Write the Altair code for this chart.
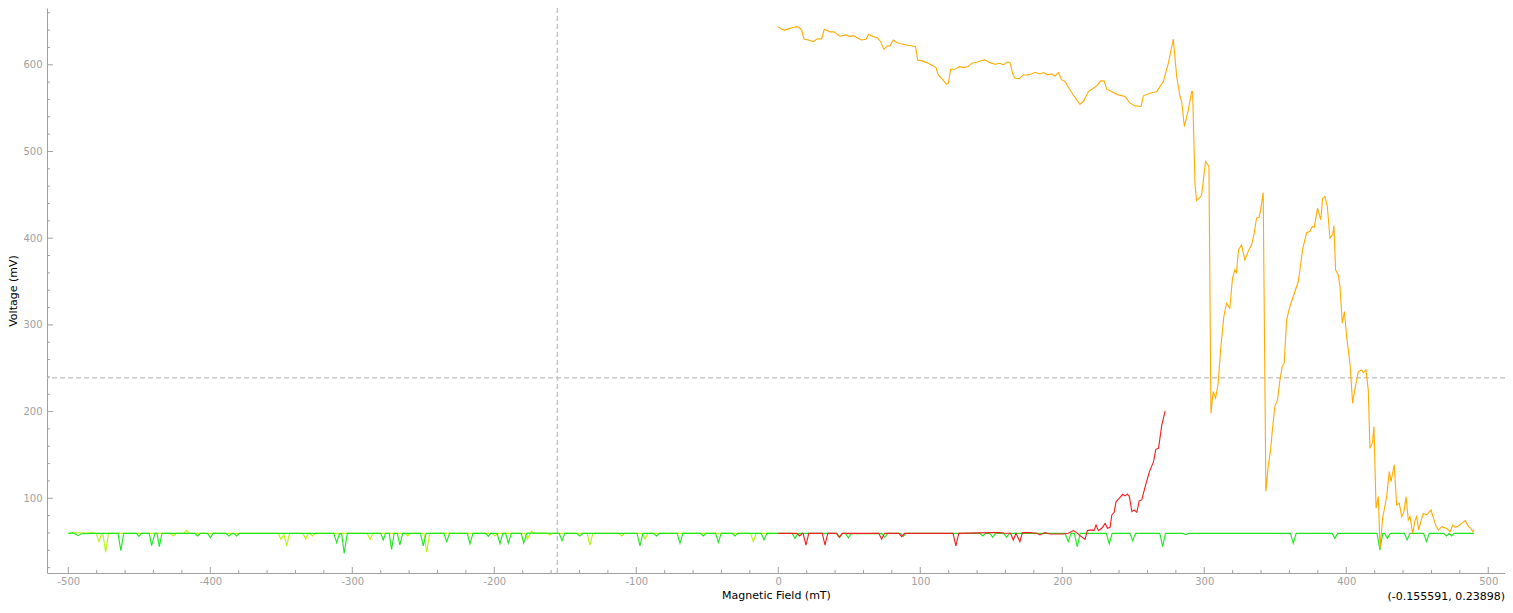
import altair as alt
import pandas as pd

# crosshair position (mT, mV) and its readout
cross_x = -155.591
cross_y = 238.98

# sweep 1: -500 -> 0 (yellow-green)
yellow_x = [-500, -496, -488, -483, -480.4, -478.4, -476.4, -475.7, -473.7, -471.7,
            -428, -426.1, -424, -418.7, -416.7, -414.7, -352.2, -350.2, -348.2, -346.2,
            -344.2, -334.8, -332.8, -330.8, -330, -328.1, -326, -289.5, -287.5, -285.5,
            -263, -261, -259, -249.6, -247.6, -245.6, -201.5, -199.5, -197.5, -178.7,
            -176.7, -173.7, -171.7, -162.8, -160.8, -158.8, -134.6, -132.6, -130.6, -112.3,
            -110.3, -108.3, -95.8, -93.8, -91.8, -19.6, -17.6, -15.6, 0]
yellow_v = [59.5, 60.5, 60, 60.5, 59.5, 50, 59.5, 59.5, 37.7, 59.5,
            59.5, 56.5, 59.5, 59.5, 62.7, 59.5, 59.5, 52.5, 58, 45,
            59.5, 59.5, 53, 59.5, 59.5, 56.5, 59.5, 59.5, 52.5, 59.5,
            59.5, 56.5, 59.5, 59.5, 37.7, 59.5, 59.5, 56.5, 59.5, 59.5,
            53, 61.9, 59.5, 59.5, 57.5, 59.5, 59.5, 46.1, 59.5, 59.5,
            56.5, 59.5, 59.5, 52.7, 59.5, 59.5, 50, 59.5, 59.5]

# sweep 2: -500 -> 490 (green)
green_x = [-500, -497, -494.5, -493, -491, -480, -465, -463, -461, -452,
           -450.3, -448.5, -443, -441.3, -439, -437.5, -435.9, -434, -411, -409,
           -407, -402, -400, -398, -389, -387, -385, -383.5, -381.5, -379.5,
           -313, -311, -309, -307.5, -305.7, -303.5, -280, -278.2, -276.5, -274,
           -272.3, -270.5, -268.3, -266.5, -264.5, -252, -250, -248, -235.5, -233.5,
           -231.5, -219, -217.1, -215, -206, -204.2, -202.5, -198, -196, -194,
           -192, -190.1, -188, -181, -179.3, -177, -154.3, -152.3, -150.3, -142,
           -139.8, -137.5, -99.5, -97.4, -95.3, -88, -85.7, -83.5, -71.2, -69.2,
           -67.2, -55, -52.8, -50.8, -44.2, -42.2, -40.2, -32.5, -30.5, -28.5,
           -12, -10.1, -8, 9.8, 11.8, 13.8, 41.3, 43.3, 45.3, 47.3,
           49.3, 51.3, 73, 75, 77, 86, 88, 90, 142, 144,
           146, 149, 151, 153, 158.8, 160.8, 162.8, 202, 204.2, 206.2,
           208.5, 210.6, 212.6, 231, 233.1, 235.1, 247.6, 249.6, 251.6, 268.7,
           270.7, 272.7, 285, 287, 289, 360.7, 362.7, 364.7, 390, 392,
           394, 421.7, 423.7, 425.7, 427, 429, 431, 440.9, 442.9, 444.9,
           454.5, 456.5, 458.5, 468.6, 470.6, 472.6, 474.1, 476, 490]
green_v = [59.5, 60, 58.5, 56.9, 59, 59.5, 59.5, 39.6, 59.5, 59.5,
           56, 59.5, 59.5, 45.4, 59.5, 59.5, 44.2, 59.5, 59.5, 56.5,
           59.5, 59.5, 54.5, 59.5, 59.5, 56.5, 59, 59.5, 56.5, 59.5,
           59.5, 48.8, 59, 59.5, 36.5, 59.5, 59.5, 51.9, 59.5, 59.5,
           41.1, 59.5, 59.5, 46.1, 59.5, 59.5, 45, 59.5, 59.5, 50,
           59.5, 59.5, 47.3, 59.5, 59.5, 56, 59.5, 59.5, 47.3, 59.5,
           59.5, 48.1, 59.5, 59.5, 48.5, 60, 59.5, 51, 59.5, 59.5,
           56.5, 59.5, 59.5, 45, 59.5, 59.5, 56.5, 59.5, 59.5, 48,
           59.5, 59.5, 56.5, 59.5, 59.5, 49, 59.5, 59.5, 56.5, 59.5,
           59.5, 51.9, 59.5, 59.5, 53.8, 59.5, 59.5, 55, 59.5, 59.5,
           54.5, 59, 59.5, 55, 59.5, 59.5, 56, 59.5, 59.5, 56.5,
           59.5, 59.5, 55, 59.5, 59.5, 55, 59.5, 59.5, 50, 59.5,
           59.5, 44.2, 59.5, 59.5, 47.3, 59.5, 59.5, 51.1, 59.5, 59.5,
           44.2, 59.5, 59.5, 58, 59.5, 59.5, 48, 59.5, 59.5, 53.8,
           59.5, 59.5, 40.4, 59.5, 59.5, 53.8, 59.5, 59.5, 51.9, 59.5,
           59.5, 50, 59.5, 59.5, 56.5, 59.5, 56.5, 59.5, 59.5]

# sweep 3: 0 -> 273 (red)
red_x = [0, 13, 15, 17, 17.5, 19.5, 21.5, 31, 32.9, 34.9,
         41, 43, 45, 70.8, 72.8, 74.8, 84.9, 86.9, 88.9, 123.1,
         125.1, 127.1, 149.1, 156.1, 159.6, 163.6, 165.5, 167.4, 170.2, 171.9,
         177.3, 182, 184.3, 187.8, 191.4, 200.8, 204.3, 207.8, 210.2, 212.5,
         216, 217.7, 220.8, 222.4, 223.8, 225.5, 227.8, 230.2, 231.8, 233.7,
         234.9, 236.5, 237.9, 239.6, 242.6, 244.3, 245.9, 247.3, 249, 250.6,
         252.5, 254.2, 256, 258.4, 261.4, 264.3, 265.9, 267.8, 270.1, 272.5]
red_v = [59.5, 59.5, 56.5, 59.5, 59.5, 46, 59.5, 59.5, 46, 59.5,
         59.5, 55, 59.5, 59.5, 52.7, 59.5, 59.5, 55.7, 59.5, 59.5,
         45, 59.5, 60.4, 60.4, 59.6, 59.6, 51.9, 59.6, 50, 60.4,
         60.4, 59.6, 57.7, 60.4, 58.8, 58.8, 59.6, 62.7, 60.4, 56.9,
         52.7, 62.7, 63.5, 62.7, 69.2, 62.7, 65.4, 71.1, 65.4, 66.5,
         80.8, 83.5, 96.2, 98.9, 104.6, 102.7, 105, 101.9, 84.6, 86.5,
         83.8, 96.9, 98.1, 113.5, 130.8, 142.3, 156.5, 157.7, 184.6, 200.8]

# sweep 4: 0 -> 490 (orange)
orange_x = [0, 2.4, 4.7, 8.2, 10.6, 12.9, 14.8, 16.5, 18.1, 21.1,
            24.7, 27.5, 30.5, 32.4, 36.4, 39.2, 43.4, 47.7, 50.5, 52.8,
            55.2, 58.7, 61.8, 63.6, 66.9, 69.7, 72.1, 74.4, 76.8, 78.6,
            81, 83.8, 86.9, 90.4, 93.9, 96.7, 98.2, 101, 104.5, 108,
            111.1, 112.7, 115, 118.6, 119.8, 121.4, 124.5, 127.5, 130.8, 133.8,
            136.2, 139.7, 142.1, 145.6, 149.1, 152.6, 156.1, 158.5, 160.8, 163.2,
            165, 166.7, 169.7, 172.6, 174.9, 178.4, 180.8, 184.3, 186.7, 189.5,
            192.6, 194.9, 197.3, 199.6, 202, 204.3, 207.4, 210.2, 212.5, 214.9,
            218.4, 221.9, 224.2, 227.1, 229.4, 231.3, 236, 239.5, 244.2, 247.7,
            251.3, 255.5, 257.1, 261.8, 266.5, 271.2, 274.7, 278.2, 280.6, 282.9,
            284.1, 286, 288.8, 291.1, 291.8, 293.5, 294.6, 298.1, 300.9, 303.3,
            304.7, 306.3, 308, 309.8, 311.5, 313.8, 315.7, 318, 319.9, 321.5,
            322.7, 324.1, 326.2, 328.6, 330.9, 333.3, 335.2, 336.8, 338.7, 339.9,
            341.5, 343.4, 345, 346.7, 348.1, 349.7, 351.6, 353.3, 354.9, 356.3,
            358, 360.3, 362.7, 366.2, 367.4, 369.2, 372.1, 374.4, 376.1, 377.5,
            379.8, 382, 383.4, 385, 386.7, 388.5, 390.4, 391.3, 392.5, 394.4,
            395.6, 397.2, 398.7, 400.3, 402.7, 404.5, 406.2, 408.5, 410.8, 412,
            413.9, 415.5, 416.7, 418.4, 419.5, 421, 422.6, 423.8, 425.6, 428.5,
            430.3, 431.5, 433.8, 435.5, 437.4, 439, 440.7, 442.1, 443.7, 444.9,
            446.8, 448.5, 449.6, 451, 452.5, 454.3, 456.7, 459.7, 461.4, 463.3,
            464.9, 467.3, 470.3, 473.2, 475, 476.7, 479, 481.4, 483.7, 486.1,
            487.7, 489.1, 490.1]
orange_v = [643.9, 640.9, 640, 642, 643, 644, 643, 640, 629.8, 628.6,
            626.7, 630, 629.8, 640.9, 638, 638, 633, 634.5, 632.5, 633.6,
            631.6, 628.6, 629.4, 635, 632.5, 631.2, 626.6, 617.8, 622, 621.6,
            628.6, 625.5, 624, 622.8, 622, 620.9, 605.6, 604.8, 602.5, 599.8,
            596.7, 588.3, 584.4, 577.5, 578.7, 594.9, 594.9, 597.9, 596.7, 597.9,
            601.8, 602.9, 604.4, 605.6, 602.5, 600.6, 601.8, 599.8, 602.9, 602.9,
            590.2, 584.4, 584.1, 588.3, 588.3, 589.4, 591.4, 589.4, 591, 588.7,
            589.4, 587.1, 591, 582.5, 580.6, 574.1, 566, 559.5, 554.5, 557.6,
            569.1, 573, 575.7, 581.4, 581.4, 571.8, 568, 565.3, 563.4, 555.7,
            552.6, 551.9, 564.2, 567.1, 569, 580.6, 601.8, 629.5, 586.4, 563.4,
            557.6, 528.8, 548, 569.1, 569.1, 461.5, 443.4, 449.2, 488.4, 482.7,
            198.1, 223.1, 215.4, 232.7, 271.2, 309.6, 325, 319.2, 353.8, 363.4,
            360.3, 386.5, 392.3, 375, 384.6, 392.3, 405.8, 423.1, 424.2, 434.6,
            452.7, 107.8, 136.6, 155.8, 180.8, 205.8, 213.5, 236.5, 251.9, 255.8,
            305.8, 321.2, 332.7, 350, 363.4, 386.5, 406.5, 407.7, 413.5, 412.7,
            434.6, 421.2, 446.1, 448.1, 436.5, 400, 403.9, 414.3, 363.4, 357.6,
            344.2, 301.9, 315.3, 286.5, 253.8, 209.6, 226.9, 246.1, 248, 245,
            248, 225, 157.7, 163.5, 182.7, 88.5, 102, 42.4, 77, 102,
            130.8, 119.3, 138.5, 92.3, 94.2, 78.8, 84.6, 102, 75, 78.8,
            59.6, 75, 78.8, 63.5, 73.1, 82.7, 80.8, 86.5, 77, 67.3,
            63.5, 67.3, 65.4, 61.5, 69.2, 66.5, 68, 71.1, 74.2, 67.3,
            65.4, 61.5, 63.5]

# axis ticks
x_major = list(range(-500, 501, 100))
x_minor = [v for v in range(-500, 501, 20) if v % 100 != 0]
y_major = list(range(100, 601, 100))
y_minor = [v for v in range(20, 661, 20) if v % 100 != 0]

W, H = 1458, 565
GREY = '#a0a0a0'
FONT = 'DejaVu Sans'

x_scale = alt.Scale(domain=[-515, 511.8], nice=False, zero=False)
y_scale = alt.Scale(domain=[13.8, 665.5], nice=False, zero=False)

x_axis = alt.Axis(values=x_major, title='Magnetic Field (mT)', ticks=False, grid=False,
                  domainColor=GREY, domainWidth=1, labelColor=GREY, labelFont=FONT,
                  labelFontSize=10, labelPadding=3, labelExpr="'' + datum.value",
                  labelFlush=False, titleFont=FONT, titleFontSize=11,
                  titleFontWeight='normal', titleColor='black', titlePadding=3)
y_axis = alt.Axis(values=y_major, title='Voltage (mV)', ticks=False, grid=False,
                  domainColor=GREY, domainWidth=1, labelColor=GREY, labelFont=FONT,
                  labelFontSize=10, labelPadding=5, labelExpr="'' + datum.value",
                  titleFont=FONT, titleFontSize=11, titleFontWeight='normal',
                  titleColor='black', titlePadding=4)


def trace(xs, vs, colour):
    df = pd.DataFrame({'field': xs, 'volt': vs})
    return alt.Chart(df).mark_line(color=colour, strokeWidth=1.1, clip=True).encode(
        x=alt.X('field:Q', scale=x_scale, axis=x_axis),
        y=alt.Y('volt:Q', scale=y_scale, axis=y_axis),
    )


def x_ticks(vals, size):
    return alt.Chart(pd.DataFrame({'t': vals})).mark_rule(color=GREY, strokeWidth=1).encode(
        x=alt.X('t:Q', scale=x_scale, axis=x_axis),
        y=alt.value(H), y2=alt.value(H - size))


def y_ticks(vals, size):
    return alt.Chart(pd.DataFrame({'t': vals})).mark_rule(color=GREY, strokeWidth=1).encode(
        y=alt.Y('t:Q', scale=y_scale, axis=y_axis),
        x=alt.value(0), x2=alt.value(size))


cross_v = alt.Chart(pd.DataFrame({'cx': [cross_x]})).mark_rule(
    color='#c8c8c8', strokeWidth=1.5, strokeDash=[5, 3]).encode(
    x=alt.X('cx:Q', scale=x_scale, axis=x_axis))
cross_h = alt.Chart(pd.DataFrame({'cy': [cross_y]})).mark_rule(
    color='#c8c8c8', strokeWidth=1.5, strokeDash=[5, 3]).encode(
    y=alt.Y('cy:Q', scale=y_scale, axis=y_axis))

readout = f'({cross_x / 1000:g}, {cross_y / 1000:g})'
label = alt.Chart(pd.DataFrame({'txt': [readout]})).mark_text(
    align='right', baseline='middle', font=FONT, fontSize=11, color='black').encode(
    x=alt.value(W), y=alt.value(H + 24), text='txt:N')

chart = alt.layer(
    cross_v, cross_h,
    x_ticks(x_major, 6), x_ticks(x_minor, 3),
    y_ticks(y_major, 6), y_ticks(y_minor, 3),
    trace(yellow_x, yellow_v, '#b4f50a'),
    trace(green_x, green_v, '#1ee61e'),
    trace(red_x, red_v, '#f01e1e'),
    trace(orange_x, orange_v, '#ffab00'),
    label,
).properties(
    width=W, height=H,
    autosize=alt.AutoSizeParams(type='none'),
    padding={'left': 39, 'top': 0, 'right': 0, 'bottom': 32},
).configure_view(strokeWidth=0)

chart.save('out.html', embed_options={'renderer': 'svg', 'actions': False})
